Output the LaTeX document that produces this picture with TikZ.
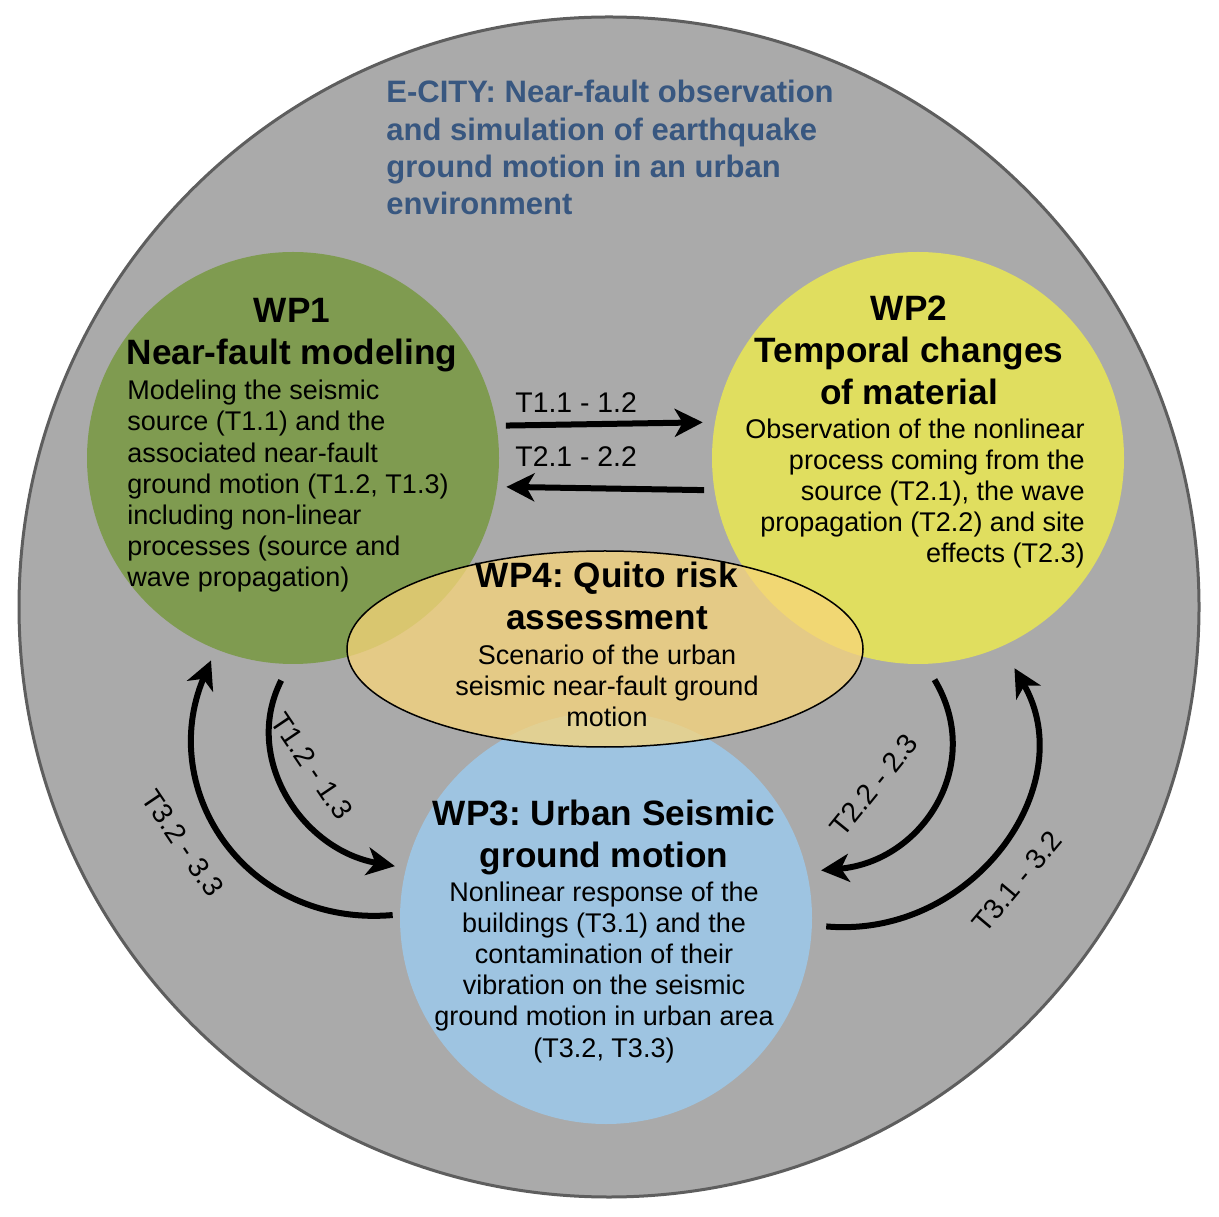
\documentclass[tikz,border=0pt]{standalone}
\usepackage{fontspec}
\setmainfont{Liberation Sans}
\usetikzlibrary{shapes.geometric,arrows.meta}
\frenchspacing

\definecolor{cityfill}{HTML}{AAAAAA}
\definecolor{cityline}{HTML}{5E5E5E}
\definecolor{wponefill}{HTML}{7F9B50}
\definecolor{wptwofill}{HTML}{E0DE5F}
\definecolor{wpthreefill}{HTML}{9EC4E1}
\definecolor{wpfourfill}{HTML}{F8D57A}
\definecolor{titleblue}{HTML}{385780}

\newcommand{\wphead}{\bfseries\fontsize{17.6}{21}\selectfont}
\newcommand{\wpbody}{\fontsize{13.5}{15.6}\selectfont}
\newcommand{\tasksize}{\fontsize{14.2}{17}\selectfont}

\begin{document}
\begin{tikzpicture}[x=0.5pt, y=0.5pt,
    wp/.style={circle, minimum size=206pt, inner sep=0pt},
    head/.style={font=\wphead, align=center, inner sep=0pt, anchor=base},
    desc/.style={font=\wpbody, inner sep=0pt},
    flow/.style={line width=3pt, -{Stealth[length=14pt, width=14pt, inset=4pt]}},
    task/.style={font=\tasksize, inner sep=0pt}]
    \useasboundingbox (0,0) rectangle (1219,1216);

    % Project circle
    \node[circle, draw=cityline, line width=1.5pt, fill=cityfill, minimum size=590pt, inner sep=0pt] (city) at (609,609) {};
    \node[font=\bfseries\fontsize{15.5}{18.67}\selectfont, text=titleblue, align=left, anchor=base west, inner sep=0pt] (title) at (386,1001)
        {E-CITY: Near-fault observation\\and simulation of earthquake\\ground motion in an urban\\environment};

    % Work packages
    \node[wp, fill=wponefill] (wp1) at (293,758) {};
    \node[wp, fill=wptwofill] (wp2) at (918,758) {};
    \node[wp, fill=wpthreefill] (wp3) at (606,298) {};
    \node[ellipse, draw=black, line width=0.75pt, fill=wpfourfill, fill opacity=0.75, minimum width=258pt, minimum height=98pt, inner sep=0pt] (wp4) at (605,567) {};

    % Texts (anchored at the baseline of their last line)
    \node[head] (wp1head) at (292,851) {WP1\\Near-fault modeling};
    \node[desc, align=left, anchor=base west] (wp1body) at (127,629)
        {Modeling the seismic\\source (T1.1) and the\\associated near-fault\\ground motion (T1.2, T1.3)\\including non-linear\\processes (source and\\wave propagation)};
    \node[head] (wp2head) at (909,811) {WP2\\Temporal changes\\of material};
    \node[desc, align=right, anchor=base east] (wp2body) at (1085,653)
        {Observation of the nonlinear\\process coming from the\\source (T2.1), the wave\\propagation (T2.2) and site\\effects (T2.3)};
    \node[head] (wp3head) at (604,349) {WP3: Urban Seismic\\ground motion};
    \node[desc, align=center, anchor=base] (wp3body) at (604,159)
        {Nonlinear response of the\\buildings (T3.1) and the\\contamination of their\\vibration on the seismic\\ground motion in urban area\\(T3.2, T3.3)};
    \node[head] (wp4head) at (607,586) {WP4: Quito risk\\assessment};
    \node[desc, align=center, anchor=base] (wp4body) at (607,489)
        {Scenario of the urban\\seismic near-fault ground\\motion};

    % Exchanges between work packages
    \draw[flow, shorten <=4.5pt, shorten >=6pt] (wp1.9.5) -- (wp2.170.5);
    \draw[flow, shorten <=5pt, shorten >=4.5pt] (wp2.-171.6) -- (wp1.-8.4);
    \draw[flow, shorten <=9pt, shorten >=5.5pt] (wp1.-91) to[out=-117, in=170, looseness=1.15] (wp3.166);
    \draw[flow, shorten <=3.5pt, shorten >=6pt] (wp3.179) to[out=185, in=-113, looseness=1.22] (wp1.-112);
    \draw[flow, shorten <=9pt, shorten >=7pt] (wp2.-88) to[out=-59, in=5, looseness=1.25] (wp3.13);
    \draw[flow, shorten <=7pt, shorten >=12.5pt] (wp3.-2) to[out=-5, in=-60, looseness=1.22] (wp2.-66);

    % Task labels
    \node[task, anchor=base west] (t11) at (515,803) {T1.1 - 1.2};
    \node[task, anchor=base west] (t21) at (515,749) {T2.1 - 2.2};
    \node[task, rotate=-56] (t12) at (312,450) {T1.2 - 1.3};
    \node[task, rotate=-56] (t32) at (183,373) {T3.2 - 3.3};
    \node[task, rotate=51] (t22) at (874,431) {T2.2 - 2.3};
    \node[task, rotate=50] (t31) at (1017,334) {T3.1 - 3.2};
\end{tikzpicture}
\end{document}
